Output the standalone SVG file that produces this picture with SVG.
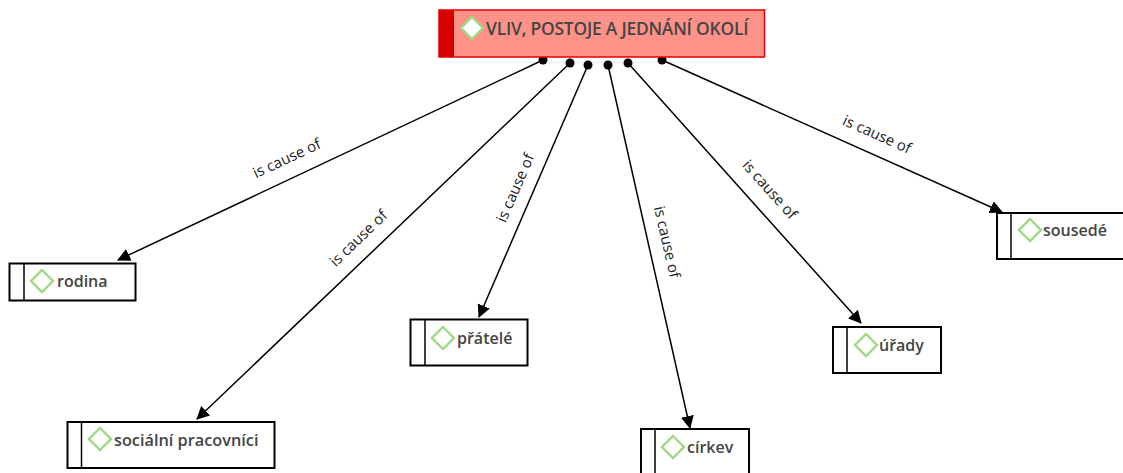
<svg xmlns="http://www.w3.org/2000/svg" width="1123" height="473" viewBox="0 0 1123 473">
<style>
.box{fill:#fff;stroke:#000;stroke-width:2}
.bar{stroke:#000;stroke-width:1.5}
.dia{fill:#fff;stroke:#9fd885;stroke-width:2.4}
.t{font-family:"Open Sans","Noto Sans","Liberation Sans",sans-serif;font-size:16px;font-weight:600;fill:#444}
.l{font-family:"Open Sans","Noto Sans","Liberation Sans",sans-serif;font-size:15px;fill:#222;text-anchor:middle}
.c{stroke:#000;stroke-width:1.5;fill:none;marker-end:url(#a)}
.d{fill:#000}
</style>
<defs>
<marker id="a" markerUnits="userSpaceOnUse" markerWidth="14" markerHeight="14" refX="12" refY="7" orient="auto"><path d="M0 0.500L13 7L0 13.500Z" fill="#000"/></marker>
</defs>
<g id="connectors">
<path class="c" d="M543 60L118 260"/><circle class="d" cx="543" cy="60" r="4.5"/>
<path class="c" d="M570 63L197 419"/><circle class="d" cx="570" cy="63" r="4.5"/>
<path class="c" d="M588 65L479 317"/><circle class="d" cx="588" cy="65" r="4.5"/>
<path class="c" d="M608 65L690 428"/><circle class="d" cx="608" cy="65" r="4.5"/>
<path class="c" d="M628 63L861 323"/><circle class="d" cx="628" cy="63" r="4.5"/>
<path class="c" d="M662 60L1002 212"/><circle class="d" cx="662" cy="60" r="4.5"/>
</g>
<g id="labels">
<text class="l" transform="translate(289 163) rotate(-25)">is cause of</text>
<text class="l" transform="translate(362 242) rotate(-44)">is cause of</text>
<text class="l" transform="translate(520 190) rotate(-66.5)">is cause of</text>
<text class="l" transform="translate(662 243) rotate(77)">is cause of</text>
<text class="l" transform="translate(766 193) rotate(48)">is cause of</text>
<text class="l" transform="translate(875 139) rotate(24)">is cause of</text>
</g>
<g id="n0">
<rect x="439" y="10" width="325.500" height="47" fill="#ff9288" stroke="#e60000" stroke-width="1.500"/>
<rect x="439" y="10" width="15" height="47" fill="#d90000"/>
<path class="dia" d="M472 17L483 28L472 39L461 28Z"/>
<text class="t" x="486" y="35" style="font-size:17.400px;letter-spacing:-.2px">VLIV, POSTOJE A JEDNÁNÍ OKOLÍ</text>
</g>
<g id="n1">
<rect class="box" x="9.500" y="263.500" width="126" height="37"/><path class="bar" d="M24 263V300"/>
<path class="dia" d="M42 270L53 281L42 292L31 281Z"/><text class="t" x="57" y="287">rodina</text>
</g>
<g id="n2">
<rect class="box" x="67.500" y="422" width="207" height="46"/><path class="bar" d="M81.500 422V468"/>
<path class="dia" d="M100 428L111 439L100 450L89 439Z"/><text class="t" x="114" y="446" style="font-size:16.300px">sociální pracovníci</text>
</g>
<g id="n3">
<rect class="box" x="410.500" y="319.500" width="117" height="46"/><path class="bar" d="M425 319V365"/>
<path class="dia" d="M443 327L454 338L443 349L432 338Z"/><text class="t" x="457" y="344">přátelé</text>
</g>
<g id="n4">
<rect class="box" x="641" y="429" width="108" height="50"/><path class="bar" d="M655 429V473"/>
<path class="dia" d="M673 436L684 447L673 458L662 447Z"/><text class="t" x="687" y="453">církev</text>
</g>
<g id="n5">
<rect class="box" x="833" y="327" width="108" height="46"/><path class="bar" d="M847 327V373"/>
<path class="dia" d="M866 334L877 345L866 356L855 345Z"/><text class="t" x="879" y="351">úřady</text>
</g>
<g id="n6">
<rect class="box" x="997" y="213" width="127" height="46"/><path class="bar" d="M1011 213V259"/>
<path class="dia" d="M1030 219L1041 230L1030 241L1019 230Z"/><text class="t" x="1043" y="236">sousedé</text>
</g>
</svg>
